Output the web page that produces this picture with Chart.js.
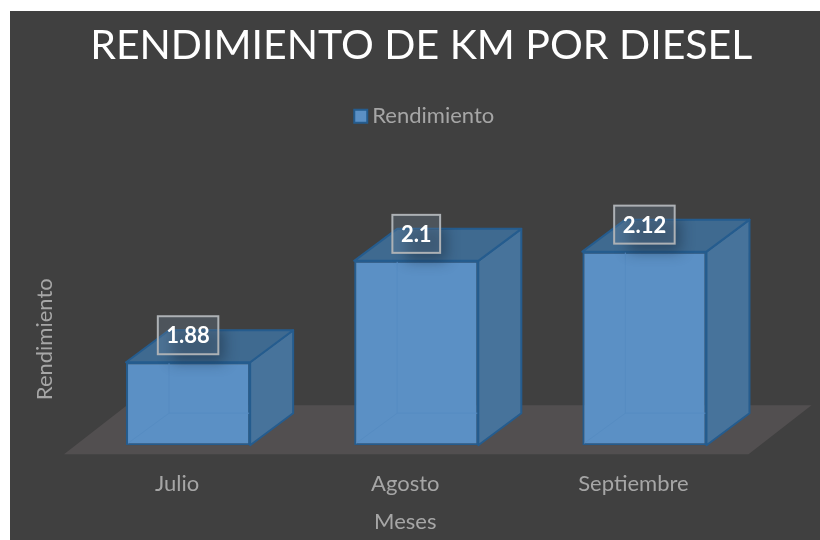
<!DOCTYPE html>
<html><head><meta charset="utf-8">
<style>html,body{margin:0;padding:0;background:#fff}canvas{display:block}</style>
<script src="https://cdn.jsdelivr.net/npm/chart.js@4"></script>
</head><body><canvas id="c" width="820" height="540"></canvas>
<script>
const categories = ["Julio", "Agosto", "Septiembre"];
const rendimiento = [1.88, 2.1, 2.12];
const seriesName = "Rendimiento";
const chartTitle = "RENDIMIENTO DE KM POR DIESEL";
const xTitle = "Meses";
const yTitle = "Rendimiento";
const axisMin = 1.7;
const axisMax = 2.16;

const FONT = "Lato, 'Open Sans', sans-serif";
const DX = 43, DY = -32;
function boxFaces(el) {
  const l = el.x - el.width / 2, r = el.x + el.width / 2, t = el.y, b = el.base;
  return {l, r, t, b};
}
const poly = (ctx, pts) => { ctx.beginPath(); pts.forEach((p, i) => i ? ctx.lineTo(p[0], p[1]) : ctx.moveTo(p[0], p[1])); ctx.closePath(); };

const box3d = {
  id: 'box3d',
  afterLayout(chart) {
    chart.legend.left += 38; chart.legend.right += 38; chart.legend.top -= 96; chart.legend.bottom -= 96;
    chart.titleBlock.left += 32; chart.titleBlock.right += 32;
    chart.scales.x.left -= 11; chart.scales.x.right -= 11;
  },
  beforeDraw(chart) {
    const c = chart.ctx;
    c.save();
    c.fillStyle = '#fff'; c.fillRect(0, 0, chart.width, chart.height);
    c.fillStyle = '#404040'; c.fillRect(10, 11, chart.width - 10, chart.height - 11);
    c.restore();
  },
  beforeDatasetsDraw(chart) {
    const c = chart.ctx, {left, right} = chart.chartArea;
    const base = chart.scales.y.getPixelForValue(chart.scales.y.min);
    c.save();
    c.fillStyle = '#524f50';
    poly(c, [[left - 10, base + 9], [right - 10, base + 9], [right + 53, base - 40], [left + 53, base - 40]]);
    c.fill();
    chart.getDatasetMeta(0).data.forEach(el => {
      const {l, r, t, b} = boxFaces(el);
      c.lineWidth = 2; c.strokeStyle = '#255c8e'; c.lineJoin = 'round';
      c.fillStyle = '#47739b';
      poly(c, [[r, t], [r + DX, t + DY], [r + DX, b + DY], [r, b]]); c.fill(); c.stroke();
      c.fillStyle = '#3f6a90';
      poly(c, [[l, t], [l + DX, t + DY], [r + DX, t + DY], [r, t]]); c.fill(); c.stroke();
    });
    c.restore();
  },
  afterDatasetsDraw(chart) {
    const c = chart.ctx, meta = chart.getDatasetMeta(0);
    c.save();
    meta.data.forEach((el, i) => {
      const {l, r, t, b} = boxFaces(el);
      // faint hidden edges seen through the translucent front face
      c.strokeStyle = '#568cc2'; c.lineWidth = 1;
      c.beginPath();
      c.moveTo(l + 2, b - 2); c.lineTo(l + DX, b + DY);
      c.moveTo(l + DX, t + 1); c.lineTo(l + DX, b + DY);
      c.moveTo(l + DX, b + DY); c.lineTo(r - 1, b + DY);
      c.stroke();
      // label shadow clipped to the box
      const cx = el.x, cy = t - 27;
      const text = String(rendimiento[i]);
      c.font = "bold 22px " + FONT;
      const tw = c.measureText(text).width, w = tw + 17, h = 38;
      c.save();
      poly(c, [[l, t], [l + DX, t + DY], [r + DX, t + DY], [r + DX, b + DY], [r, b], [l, b]]);
      c.clip();
      c.shadowColor = 'rgba(20,30,45,0.42)'; c.shadowBlur = 14;
      c.shadowOffsetX = 2000 + 8; c.shadowOffsetY = 8;
      c.fillStyle = '#000';
      c.fillRect(cx - w / 2 + 6 - 2000, cy - h / 2 + 4, w - 8, h - 4);
      c.restore();
      // label box
      c.fillStyle = 'rgba(110,135,160,0.28)';
      c.fillRect(cx - w / 2, cy - h / 2, w, h);
      c.strokeStyle = '#adb1b5'; c.lineWidth = 2;
      c.strokeRect(cx - w / 2, cy - h / 2, w, h);
      c.fillStyle = '#fff'; c.textAlign = 'center'; c.textBaseline = 'middle';
      c.fillText(text, cx, cy + 1);
    });
    c.restore();
  }
};

new Chart(document.getElementById('c'), {
  type: 'bar',
  data: {
    labels: categories,
    datasets: [{
      label: seriesName,
      data: rendimiento,
      base: axisMin,
      backgroundColor: '#5b90c5',
      borderColor: '#255c8e',
      borderWidth: 2,
      borderSkipped: false,
      categoryPercentage: 1,
      barPercentage: 0.544
    }]
  },
  options: {
    responsive: false,
    animation: false,
    layout: {padding: {left: 20, right: 61.5, top: 0, bottom: 5}},
    plugins: {
      tooltip: {enabled: false},
      title: {
        display: true, text: chartTitle, color: '#ffffff',
        font: {family: FONT, size: 41, weight: 'normal'},
        padding: {top: 21, bottom: 5}
      },
      legend: {
        position: 'top',
        labels: {color: '#a6a6a6', font: {family: FONT, size: 22}, usePointStyle: true, pointStyle: 'rect', boxWidth: 1, boxHeight: 13, padding: 126}
      }
    },
    scales: {
      x: {
        grid: {display: false, tickLength: 15}, border: {display: false},
        ticks: {color: '#a6a6a6', font: {family: FONT, size: 22}, padding: 11, labelOffset: -11},
        title: {display: true, text: xTitle, color: '#a6a6a6', font: {family: FONT, size: 22}, padding: {top: 0, bottom: 0}}
      },
      y: {
        min: axisMin, max: axisMax,
        grid: {display: false, drawTicks: false}, border: {display: false},
        ticks: {display: false},
        title: {display: true, text: yTitle, color: '#a6a6a6', font: {family: FONT, size: 22}, padding: {top: 12, bottom: 15.6}}
      }
    }
  },
  plugins: [box3d]
});
</script></body></html>
